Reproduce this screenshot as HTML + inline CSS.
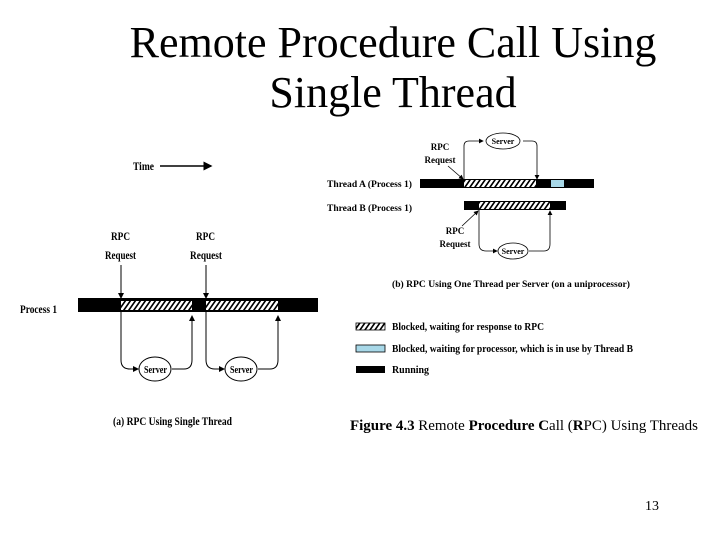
<!DOCTYPE html>
<html><head><style>
body{margin:0;background:#fff}
svg{display:block}
</style></head><body>
<svg width="720" height="540" viewBox="0 0 720 540" xmlns="http://www.w3.org/2000/svg" font-family="Liberation Serif, serif">
<defs>
<pattern id="h" width="5" height="8" patternUnits="userSpaceOnUse" patternTransform="skewX(-35)">
<rect width="5" height="8" fill="#fff"/><rect width="2" height="8" fill="#000"/>
</pattern>
<marker id="a" markerWidth="6" markerHeight="6" refX="5" refY="3" orient="auto"><path d="M0,0L6,3L0,6z"/></marker>
</defs>
<text x="393" y="57" font-size="44" text-anchor="middle">Remote Procedure Call Using</text>
<text x="393" y="107" font-size="44" text-anchor="middle">Single Thread</text>

<!-- left diagram -->
<g font-weight="bold" font-size="12">
<text x="133" y="170" textLength="21" lengthAdjust="spacingAndGlyphs">Time</text>
<text x="111" y="240" textLength="19" lengthAdjust="spacingAndGlyphs">RPC</text>
<text x="105" y="259" textLength="31" lengthAdjust="spacingAndGlyphs">Request</text>
<text x="196" y="240" textLength="19" lengthAdjust="spacingAndGlyphs">RPC</text>
<text x="190" y="259" textLength="32" lengthAdjust="spacingAndGlyphs">Request</text>
<text x="20" y="313" textLength="37" lengthAdjust="spacingAndGlyphs">Process 1</text>
<text x="113" y="425" textLength="119" lengthAdjust="spacingAndGlyphs">(a) RPC Using Single Thread</text>
</g>
<line x1="160" y1="166" x2="211" y2="166" stroke="#000" stroke-width="1.5" marker-end="url(#a)"/>
<rect x="78" y="298" width="240" height="14" fill="#000"/>
<rect x="121" y="301" width="71" height="9" fill="url(#h)"/>
<rect x="206" y="301" width="72" height="9" fill="url(#h)"/>
<g stroke="#000" fill="none" stroke-width="1">
<line x1="121" y1="265" x2="121" y2="298" marker-end="url(#a)"/>
<line x1="206" y1="265" x2="206" y2="298" marker-end="url(#a)"/>
<path d="M121,310 V360 Q121,369 130,369 H138" marker-end="url(#a)"/>
<path d="M172,369 H184 Q192,369 192,360 V316" marker-end="url(#a)"/>
<path d="M206,310 V360 Q206,369 215,369 H224" marker-end="url(#a)"/>
<path d="M258,369 H270 Q278,369 278,360 V316" marker-end="url(#a)"/>
<ellipse cx="155" cy="369" rx="16" ry="12"/>
<ellipse cx="241" cy="369" rx="16" ry="12"/>
</g>
<g font-weight="bold" font-size="11"><text x="144" y="373" textLength="23" lengthAdjust="spacingAndGlyphs">Server</text><text x="230" y="373" textLength="23" lengthAdjust="spacingAndGlyphs">Server</text></g>

<!-- right diagram -->
<g font-weight="bold" font-size="9">
<text x="327" y="187" textLength="85" lengthAdjust="spacingAndGlyphs">Thread A (Process 1)</text>
<text x="327" y="211" textLength="85" lengthAdjust="spacingAndGlyphs">Thread B (Process 1)</text>
<text x="440" y="150" text-anchor="middle">RPC</text>
<text x="440" y="163" text-anchor="middle">Request</text>
<text x="455" y="234" text-anchor="middle">RPC</text>
<text x="455" y="247" text-anchor="middle">Request</text>
<text x="392" y="287" textLength="238" lengthAdjust="spacingAndGlyphs">(b) RPC Using One Thread per Server (on a uniprocessor)</text>
<text x="392" y="330" font-size="10" textLength="152" lengthAdjust="spacingAndGlyphs">Blocked, waiting for response to RPC</text>
<text x="392" y="352" font-size="10" textLength="241" lengthAdjust="spacingAndGlyphs">Blocked, waiting for processor, which is in use by Thread B</text>
<text x="392" y="373" font-size="10" textLength="37" lengthAdjust="spacingAndGlyphs">Running</text>
</g>
<rect x="420" y="179" width="174" height="9" fill="#000"/>
<rect x="464" y="180" width="72" height="7" fill="url(#h)"/>
<rect x="551" y="180" width="13" height="7" fill="#a8d8e8"/>
<rect x="464" y="201" width="102" height="9" fill="#000"/>
<rect x="479" y="202" width="71" height="7" fill="url(#h)"/>
<g stroke="#000" fill="none" stroke-width="0.8">
<path d="M464,179 V146 Q464,141 469,141 H483" marker-end="url(#a)"/>
<path d="M523,141 H532 Q537,141 537,146 V179" marker-end="url(#a)"/>
<path d="M479,210 V244 Q479,251 486,251 H497" marker-end="url(#a)"/>
<path d="M529,251 H544 Q550,251 550,244 V211" marker-end="url(#a)"/>
<line x1="448" y1="166" x2="463" y2="179" marker-end="url(#a)"/>
<line x1="462" y1="226" x2="478" y2="211" marker-end="url(#a)"/>
<ellipse cx="503" cy="141" rx="17" ry="8"/>
<ellipse cx="513" cy="251" rx="15" ry="8"/>
</g>
<g font-weight="bold" font-size="8"><text x="503" y="144" text-anchor="middle">Server</text><text x="513" y="254" text-anchor="middle">Server</text></g>

<rect x="356" y="323" width="29" height="7" fill="url(#h)" stroke="#000" stroke-width="0.8"/>
<rect x="356" y="345" width="29" height="7" fill="#a8d8e8" stroke="#000" stroke-width="0.8"/>
<rect x="356" y="366" width="29" height="7" fill="#000"/>

<text x="350" y="430" font-size="15" textLength="348" lengthAdjust="spacingAndGlyphs"><tspan font-weight="bold">Figure 4.3</tspan>  Remote <tspan font-weight="bold">Procedure</tspan> <tspan font-weight="bold">C</tspan>all (<tspan font-weight="bold">R</tspan>PC) Using Threads</text>
<text x="645" y="510" font-size="14">13</text>
</svg>
</body></html>
